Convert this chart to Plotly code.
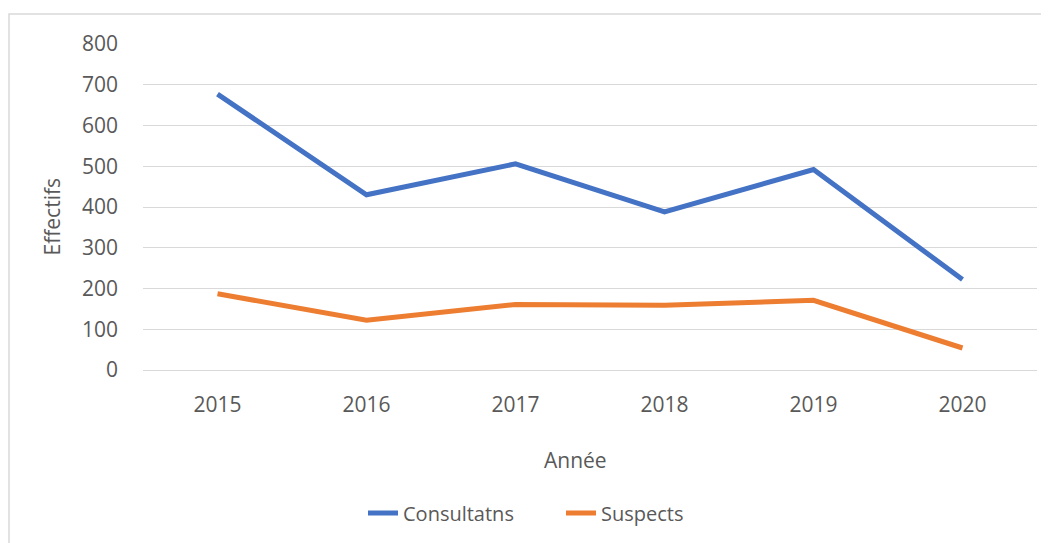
import plotly.graph_objects as go

years = ["2015", "2016", "2017", "2018", "2019", "2020"]
consultants = [677, 430, 506, 388, 492, 222]
suspects = [187, 122, 161, 159, 171, 54]
y_ticks = [0, 100, 200, 300, 400, 500, 600, 700, 800]

FONT = "Open Sans"
GREY = "#595959"

fig = go.Figure()
fig.add_trace(go.Scatter(x=years, y=consultants, mode="lines", name="Consultatns",
                         line=dict(color="#4472C4", width=5)))
fig.add_trace(go.Scatter(x=years, y=suspects, mode="lines", name="Suspects",
                         line=dict(color="#ED7D31", width=5)))

OFF = 8  # page body margin
W, H = 1049 - OFF, 543 - OFF
L, T = 143 - OFF, 44 - OFF
R = W - (1037 - OFF)
B = H - (371 - OFF)
pw = W - L - R
ph = H - T - B

def px_x(p):
    return (p - OFF - L) / pw

def px_y(p):
    return (H - B - (p - OFF)) / ph

fig.update_layout(
    width=W, height=H,
    margin=dict(l=L, r=R, t=T, b=B),
    paper_bgcolor="white", plot_bgcolor="white",
    font=dict(family=FONT, size=20, color=GREY),
    showlegend=True,
    legend=dict(orientation="h", x=px_x(561), y=px_y(513), xanchor="center", yanchor="middle",
                font=dict(size=20, color=GREY), entrywidth=153, entrywidthmode="pixels",
                tracegroupgap=0),
    xaxis=dict(type="category", range=[-0.5, 5.5], showgrid=False, showline=False,
               ticks="", tickfont=dict(size=21, color=GREY), zeroline=False,
               ticklabelstandoff=20),
    yaxis=dict(range=[0, 800], tickvals=y_ticks, showgrid=True, gridcolor="#d9d9d9",
               gridwidth=1.2, zeroline=True, zerolinecolor="#d9d9d9", zerolinewidth=1.2,
               showline=False, ticks="",
               tickfont=dict(size=21, color=GREY), ticklabelstandoff=24),
    annotations=[
        dict(text="Année", x=px_x(575), y=px_y(461), xref="paper", yref="paper",
             showarrow=False, font=dict(size=21, color=GREY), xanchor="center", yanchor="middle"),
        dict(text="Effectifs", x=px_x(52), y=px_y(217), xref="paper", yref="paper",
             showarrow=False, textangle=-90, font=dict(size=21, color=GREY),
             xanchor="center", yanchor="middle"),
    ],
    shapes=[
        dict(type="rect", xref="paper", yref="paper",
             x0=px_x(9), x1=px_x(1070), y0=px_y(570), y1=px_y(14),
             line=dict(color="#d9d9d9", width=1.5), fillcolor="rgba(0,0,0,0)", layer="below"),
    ],
)

fig.write_html("out.html")
